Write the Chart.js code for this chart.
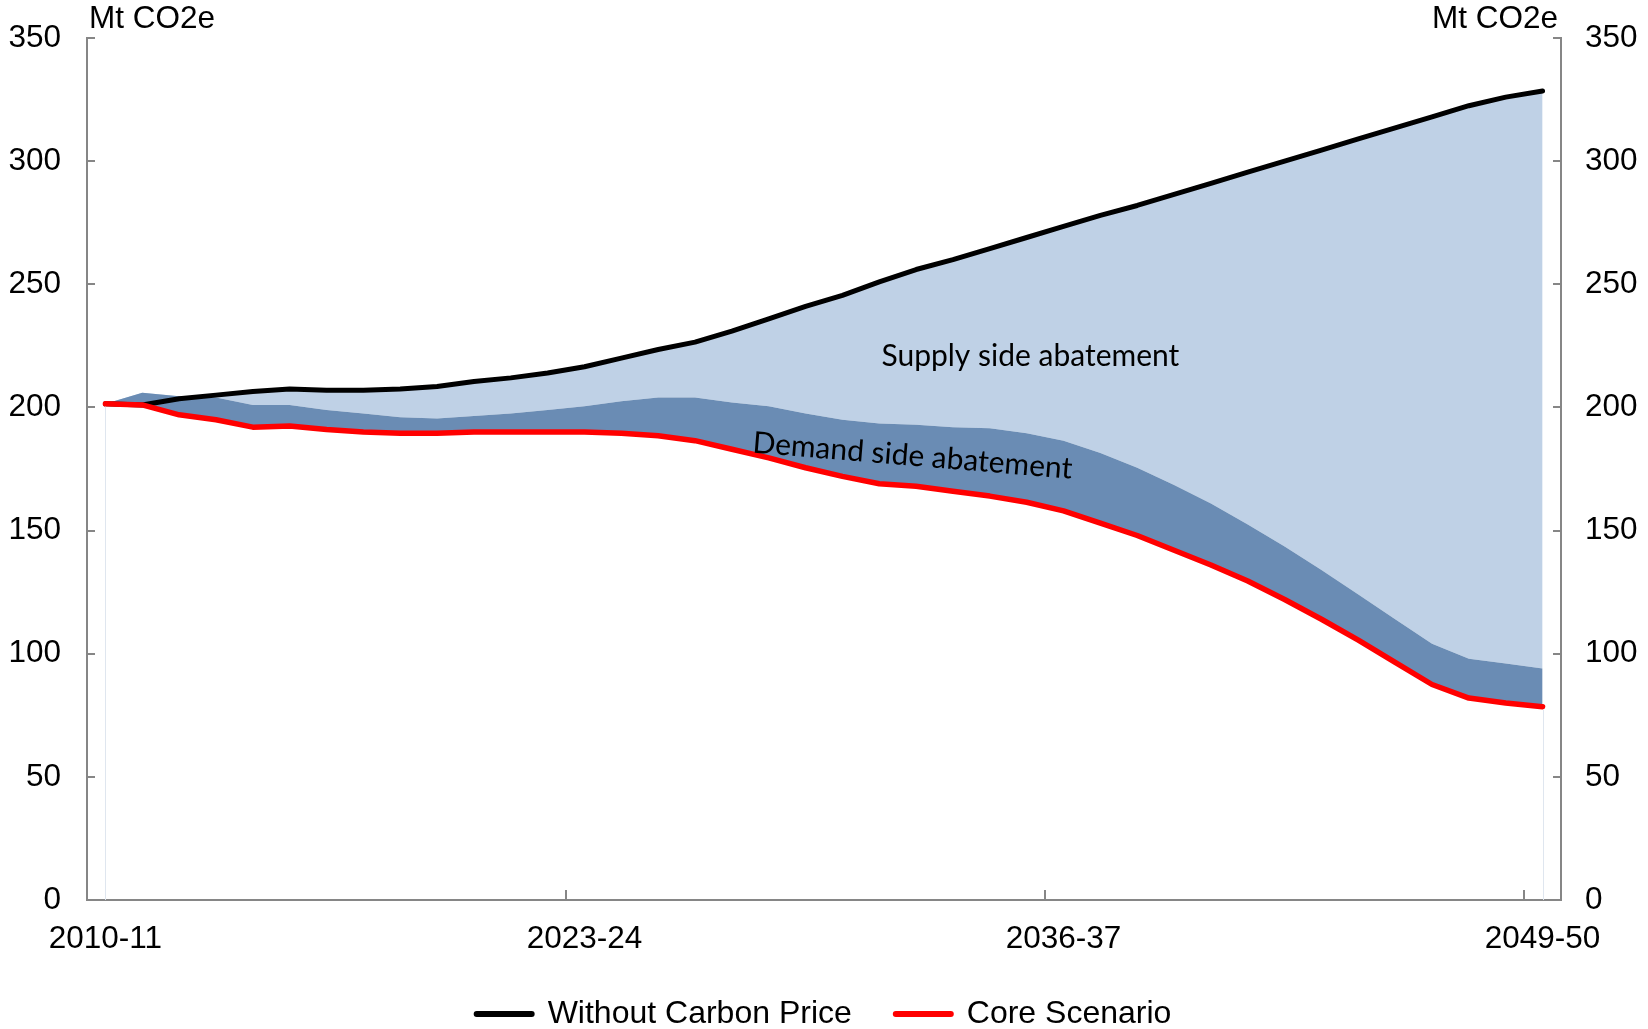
<!DOCTYPE html>
<html>
<head>
<meta charset="utf-8">
<script src="https://cdn.jsdelivr.net/npm/chart.js@4.4.1/dist/chart.umd.min.js"></script>
<style>
  html, body { margin: 0; padding: 0; background: #fff; }
  #wrap { width: 1648px; height: 1029px; }
</style>
</head>
<body>
<div id="wrap"><canvas id="myChart" width="1648" height="1029"></canvas></div>
<script>
// financial years on the x axis
const years = ['2010-11', '2011-12', '2012-13', '2013-14', '2014-15', '2015-16', '2016-17', '2017-18',
    '2018-19', '2019-20', '2020-21', '2021-22', '2022-23', '2023-24', '2024-25', '2025-26', '2026-27',
    '2027-28', '2028-29', '2029-30', '2030-31', '2031-32', '2032-33', '2033-34', '2034-35', '2035-36',
    '2036-37', '2037-38', '2038-39', '2039-40', '2040-41', '2041-42', '2042-43', '2043-44', '2044-45',
    '2045-46', '2046-47', '2047-48', '2048-49', '2049-50'];

// Mt CO2e
const withoutCarbonPrice = [201.5, 201, 203.5, 205, 206.5, 207.5, 207, 207, 207.5, 208.5,
    210.5, 212, 214, 216.5, 220, 223.5, 226.5, 231, 236, 241,
    245.5, 251, 256, 260, 264.5, 269, 273.5, 278, 282, 286.5,
    291, 295.5, 300, 304.5, 309, 313.5, 318, 322.5, 326, 328.5];

const coreScenario = [201.5, 201, 197, 195, 192, 192.5, 191, 190, 189.5, 189.5,
    190, 190, 190, 190, 189.5, 188.5, 186.5, 183, 179.5, 175.5,
    172, 169, 168, 166, 164, 161.5, 158, 153, 148, 142,
    136, 129.5, 122, 114, 105.5, 96.5, 87.5, 82, 80, 78.5];

// thickness of the demand side band, sitting on top of the core scenario
const demandSideAbatement = [0, 5, 7.5, 9, 9, 8.5, 8, 7.5, 6.5, 6,
    6.5, 7.5, 9, 10.5, 13, 15.5, 17.5, 19, 21, 22,
    23, 24.5, 25, 26, 27.5, 28, 28.5, 28.5, 27.5, 26.5,
    25, 23, 21.5, 20, 18.5, 17.5, 16.5, 16, 16, 15.5];

const yTicks = [0, 50, 100, 150, 200, 250, 300, 350];
const xLabelEvery = 13;

const demandTop = coreScenario.map((v, i) => v + demandSideAbatement[i]);

Chart.defaults.font.family = "'Liberation Sans', Arial, sans-serif";
Chart.defaults.color = '#000';

const axisGrey = '#868686';

const extras = {
    id: 'extras',
    afterLayout(chart) {
        // legend rows sit a bit higher than its box would put them
        chart.legend.top -= 6;
        chart.legend.bottom -= 6;
    },
    afterDatasetsDraw(chart) {
        const ctx = chart.ctx, x = chart.scales.x, y = chart.scales.y, a = chart.chartArea;
        ctx.save();
        // faint edges of the area at first and last year
        ctx.strokeStyle = '#dfe6ef';
        ctx.lineWidth = 1;
        [0, years.length - 1].forEach(i => {
            const px = Math.round(x.getPixelForValue(i)) + 0.5;
            ctx.beginPath();
            ctx.moveTo(px, y.getPixelForValue(coreScenario[i]) + 3);
            ctx.lineTo(px, a.bottom);
            ctx.stroke();
        });
        ctx.restore();
    },
    afterDraw(chart) {
        const ctx = chart.ctx, x = chart.scales.x, y = chart.scales.y, a = chart.chartArea;
        ctx.save();
        // inward tick marks
        ctx.strokeStyle = axisGrey;
        ctx.lineWidth = 2;
        const line = (x1, y1, x2, y2) => { ctx.beginPath(); ctx.moveTo(x1, y1); ctx.lineTo(x2, y2); ctx.stroke(); };
        yTicks.forEach(v => {
            const py = Math.round(y.getPixelForValue(v));
            line(a.left, py, a.left + 8, py);
            line(a.right - 8, py, a.right, py);
        });
        const w = x.getPixelForValue(1) - x.getPixelForValue(0);
        years.forEach((yr, i) => {
            if (i > 0 && i % xLabelEvery === 0) {
                const px = Math.round(x.getPixelForValue(i) - w / 2);
                line(px, a.bottom, px, a.bottom - 10);
            }
        });

        // unit labels
        ctx.fillStyle = '#000';
        ctx.font = "31.5px 'Liberation Sans', Arial, sans-serif";
        ctx.textBaseline = 'middle';
        ctx.textAlign = 'left';
        ctx.fillText('Mt CO2e', a.left + 2, 19);
        ctx.textAlign = 'right';
        ctx.fillText('Mt CO2e', a.right - 3, 19);

        // area annotations
        ctx.font = "30px Lato, 'Open Sans', sans-serif";
        ctx.textAlign = 'center';
        ctx.fillText('Supply side abatement', x.getPixelForValue(25.1), y.getPixelForValue(220.9));
        ctx.translate(x.getPixelForValue(21.9), y.getPixelForValue(180.3));
        ctx.rotate(4.7 * Math.PI / 180);
        ctx.fillText('Demand side abatement', 0, 0);
        ctx.restore();
    }
};

// y axes: label offset comes from an invisible tick length so it does not pad the top
const yAxis = (position) => ({
    position: position,
    min: 0,
    max: 350,
    grid: { display: false, drawTicks: true, tickLength: position === 'left' ? 26 : 24 },
    border: { display: true, color: axisGrey, width: 2 },
    ticks: { stepSize: 50, padding: 0, font: { size: 31.5 } },
    afterFit: s => { s.width = 87; }
});

const ctx = document.getElementById('myChart').getContext('2d');
const myChart = new Chart(ctx, {
    type: 'line',
    data: {
        labels: years,
        datasets: [
            {
                label: 'Without Carbon Price',
                data: withoutCarbonPrice,
                borderColor: '#000000',
                borderWidth: 5,
                backgroundColor: '#bfd1e6',
                fill: 2,
                order: 2
            },
            {
                label: 'Core Scenario',
                data: coreScenario,
                borderColor: '#ff0000',
                borderWidth: 5.5,
                fill: false,
                order: 0
            },
            {
                label: 'Demand side',
                data: demandTop,
                borderWidth: 0,
                borderColor: 'rgba(0,0,0,0)',
                backgroundColor: '#6a8cb4',
                fill: 1,
                order: 1
            }
        ]
    },
    options: {
        responsive: false,
        animation: false,
        events: [],
        elements: {
            point: { radius: 0 },
            line: { tension: 0, borderCapStyle: 'round', borderJoinStyle: 'round' }
        },
        layout: { padding: { top: 38, left: 0, right: 0, bottom: 0 } },
        plugins: {
            filler: { drawTime: 'beforeDatasetsDraw' },
            tooltip: { enabled: false },
            legend: {
                position: 'bottom',
                maxHeight: 69,
                labels: {
                    usePointStyle: true,
                    pointStyle: 'line',
                    pointStyleWidth: 55,
                    padding: 44,
                    color: '#000',
                    font: { size: 32 },
                    sort: (a, b) => a.datasetIndex - b.datasetIndex,
                    generateLabels: chart => Chart.defaults.plugins.legend.labels.generateLabels(chart)
                        .filter(l => l.datasetIndex < 2)
                        .map(l => Object.assign(l, { lineWidth: 6, lineCap: 'round' }))
                }
            }
        },
        scales: {
            x: {
                offset: true,
                grid: { display: false, drawTicks: false, offset: true },
                border: { display: true, color: axisGrey, width: 2 },
                ticks: {
                    autoSkip: false,
                    maxRotation: 0,
                    padding: 20,
                    font: { size: 31.5 },
                    callback: (v, i) => i % xLabelEvery === 0 ? years[i] : ''
                },
                afterFit: s => { s.height = 60; }
            },
            y: yAxis('left'),
            y2: yAxis('right')
        }
    },
    plugins: [extras]
});
</script>
</body>
</html>
